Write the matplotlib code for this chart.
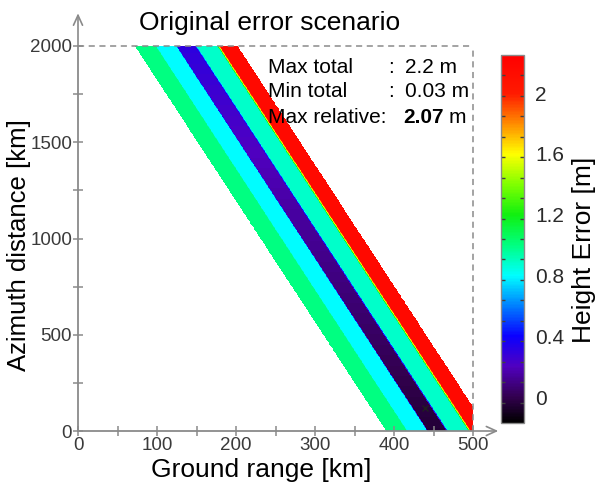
import numpy as np
import matplotlib
matplotlib.use('Agg')
import matplotlib.pyplot as plt
from matplotlib.colors import LinearSegmentedColormap, Normalize
from matplotlib.ticker import FixedLocator

plt.rcParams['font.family'] = ['Liberation Sans', 'DejaVu Sans']

# ---------------- data ----------------
# swath geometry (km)
range_max = 500.0
azimuth_max = 2000.0
near_edge_top = 72.0       # near-range edge of the swath at azimuth 2000 km
near_edge_bottom = 390.0   # near-range edge of the swath at azimuth 0 km
swath_width = 130.0

# height-error profile across the swath (fraction of swath width -> error [m])
stripe_edges = [0.0, 0.20, 0.21, 0.40, 0.41, 0.585, 0.605, 0.80, 0.83, 1.0]
stripe_values_top = [1.0, 1.0, 0.80, 0.80, 0.30, 0.30, 0.88, 0.88, 2.15, 2.15]
stripe_values_bottom = [1.0, 1.0, 0.80, 0.80, -0.05, -0.05, 0.88, 0.88, 2.15, 2.15]

# colour scale
cbar_min, cbar_max = -0.17, 2.25
cbar_ticks = [0, 0.4, 0.8, 1.2, 1.6, 2.0]
cbar_ticklabels = ['0', '0.4', '0.8', '1.2', '1.6', '2']
cmap_values = [-0.17, 0.0, 0.2, 0.4, 0.6, 0.8, 1.0, 1.2, 1.4, 1.6, 1.8, 2.0, 2.25]
cmap_colors = ['#000000', '#330050', '#5000c0', '#0a00ff', '#0080ff', '#00ffff',
               '#00ff80', '#10f010', '#80ff00', '#ffff00', '#ff8c00', '#ff1a00', '#ff0000']

x_ticks = np.arange(0, 501, 50)
x_ticklabels = ['0', '', '100', '', '200', '', '300', '', '400', '', '500']
y_ticks = np.arange(0, 2001, 250)
y_ticklabels = ['0', '', '500', '', '1000', '', '1500', '', '2000']

marker_x = [439]
marker_y = [120]

stats_labels = ['Max total', 'Min total']
stats_values = ['2.2 m', '0.03 m']
max_relative = '2.07'

# ---------------- figure ----------------
W, H = 596, 484
fig = plt.figure(figsize=(W / 100, H / 100), dpi=100)

def px_ax(l, t, r, b):
    return [l / W, 1 - b / H, (r - l) / W, (b - t) / H]

ax = fig.add_axes(px_ax(78, 46, 473, 431))
cax = fig.add_axes(px_ax(501, 55, 524, 423))

cmap = LinearSegmentedColormap.from_list(
    'err', [((v - cbar_min) / (cbar_max - cbar_min), c) for v, c in zip(cmap_values, cmap_colors)])
norm = Normalize(cbar_min, cbar_max)

nx, ny = 900, 900
xs = (np.arange(nx) + 0.5) / nx * range_max
ys = (np.arange(ny) + 0.5) / ny * azimuth_max
X, Y = np.meshgrid(xs, ys)
frac_y = Y / azimuth_max
left = near_edge_bottom + (near_edge_top - near_edge_bottom) * frac_y
u = (X - left) / swath_width
Z_top = np.interp(u, stripe_edges, stripe_values_top)
Z_bot = np.interp(u, stripe_edges, stripe_values_bottom)
Z = Z_top * frac_y + Z_bot * (1 - frac_y)
Z = np.ma.masked_where((u < 0) | (u > 1), Z)

im = ax.imshow(Z, extent=[0, range_max, 0, azimuth_max], origin='lower', aspect='auto',
               cmap=cmap, norm=norm, interpolation='nearest')
ax.plot(marker_x, marker_y, 'x', color='#202020', ms=4, mew=1)

ax.set_xlim(0, range_max)
ax.set_ylim(0, azimuth_max)

gray = '#8a8a8a'
for s in ['top', 'right']:
    ax.spines[s].set_visible(False)
for s in ['left', 'bottom']:
    ax.spines[s].set_color(gray)
    ax.spines[s].set_linewidth(1.3)

ax.set_xticks(x_ticks)
ax.set_xticklabels(x_ticklabels)
ax.set_yticks(y_ticks)
ax.set_yticklabels(y_ticklabels)
ax.tick_params(direction='inout', length=7.5, width=1.1, color=gray,
               labelsize=13.5, labelcolor='#3a3a3a', pad=0.5)

# dashed frame
ax.plot([0, range_max], [azimuth_max, azimuth_max], ls=(0, (4, 3)), color=gray, lw=1.1, clip_on=False)
ax.plot([range_max, range_max], [0, azimuth_max], ls=(0, (4, 3)), color=gray, lw=1.1, clip_on=False)

# axis arrows
ap = dict(arrowstyle='->,head_length=0.55,head_width=0.25', color=gray, lw=1.2,
          shrinkA=0, shrinkB=0, mutation_scale=13)
ax.annotate('', xy=(0, 2170), xytext=(0, azimuth_max), arrowprops=ap, annotation_clip=False)
ax.annotate('', xy=(532, 0), xytext=(range_max, 0), arrowprops=ap, annotation_clip=False)

# statistics text
fs = 15
row_y = [1860, 1735, 1600]
for lab, val, yy in zip(stats_labels, stats_values, row_y[:2]):
    ax.text(240, yy, lab, fontsize=fs, va='baseline', ha='left')
    ax.text(392, yy, ':', fontsize=fs, va='baseline', ha='left')
    ax.text(414, yy, val, fontsize=fs, va='baseline', ha='left')
ax.text(240, row_y[2], 'Max relative:', fontsize=fs, va='baseline', ha='left')
ax.text(412, row_y[2], max_relative, fontsize=fs, fontweight='bold', va='baseline', ha='left')
ax.text(469, row_y[2], 'm', fontsize=fs, va='baseline', ha='left')

# titles / labels
fig.text(270 / W, 1 - 30 / H, 'Original error scenario', fontsize=19, ha='center', va='baseline')
fig.text(261 / W, 1 - 477 / H, 'Ground range [km]', fontsize=19, ha='center', va='baseline')
fig.text(26 / W, 1 - 245 / H, 'Azimuth distance [km]', fontsize=18.5, ha='center', va='baseline',
         rotation=90, rotation_mode='anchor')
fig.text(591 / W, 1 - 250 / H, 'Height Error [m]', fontsize=19, ha='center', va='baseline',
         rotation=90, rotation_mode='anchor')

# colorbar
cb = fig.colorbar(im, cax=cax)
cb.outline.set_edgecolor(gray)
cb.outline.set_linewidth(1.0)
cax.set_yticks(cbar_ticks)
cax.set_yticklabels(cbar_ticklabels)
step = (cbar_max - cbar_min) / 18
cax.yaxis.set_minor_locator(FixedLocator([cbar_min + k * step for k in range(1, 18)]))
cax.tick_params(which='major', length=0, labelsize=15, labelcolor='#2a2a2a', pad=8)
cax.tick_params(which='minor', direction='in', left=True, right=True, length=3,
                width=1.0, color='#404040')

fig.savefig('out.png', dpi=100)
